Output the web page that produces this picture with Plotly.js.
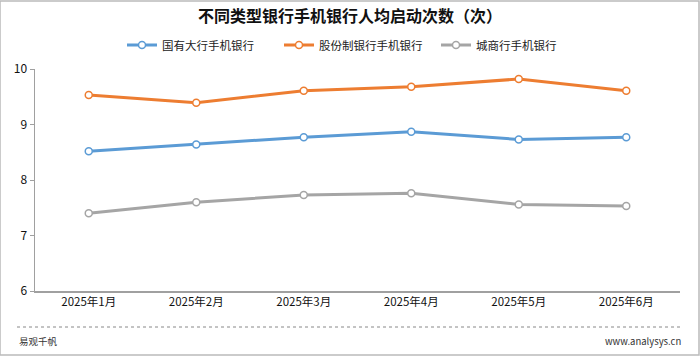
<!DOCTYPE html>
<html><head><meta charset="utf-8">
<script src="https://cdn.plot.ly/plotly-3.0.1.min.js"></script>
<style>html,body{margin:0;padding:0;background:#fff;}#chart{width:700px;height:356px;}</style>
</head><body><div id="chart"></div>
<script>
const months = ['2025年1月','2025年2月','2025年3月','2025年4月','2025年5月','2025年6月'];
const seriesNames = ['国有大行手机银行','股份制银行手机银行','城商行手机银行'];
const stateBanks = [8.52, 8.64, 8.77, 8.87, 8.73, 8.77];
const jointStock = [9.53, 9.39, 9.61, 9.68, 9.82, 9.61];
const cityBanks = [7.40, 7.60, 7.73, 7.76, 7.56, 7.53];
const yTicks = [6, 7, 8, 9, 10];
const colors = ['#5B9BD5', '#ED7D31', '#A5A5A5'];
const font = '"Noto Sans CJK SC", "Noto Sans", sans-serif';

const data = [stateBanks, jointStock, cityBanks].map((vals, i) => ({
  type: 'scatter', mode: 'lines+markers', x: months, y: vals, name: seriesNames[i],
  line: {color: colors[i], width: 3},
  marker: {size: 7, color: '#ffffff', line: {color: colors[i], width: 1.5}},
  cliponaxis: false
}));

const layout = {
  width: 700, height: 356,
  margin: {l: 35, r: 20, t: 69, b: 65},
  paper_bgcolor: '#ffffff', plot_bgcolor: '#ffffff',
  font: {family: font, size: 12, color: '#000'},
  title: {text: '<b>不同类型银行手机银行人均启动次数（次）</b>', x: 0.5, xanchor: 'center', y: 0.955, yanchor: 'middle', font: {family: font, size: 16, color: '#111'}},
  showlegend: true,
  legend: {orientation: 'h', x: 0.5, xanchor: 'center', y: 1.108, yanchor: 'middle', font: {family: font, size: 11.5, color: '#222'}, itemwidth: 30, tracegroupgap: 0, entrywidth: 112, entrywidthmode: 'pixels'},
  xaxis: {type: 'category', range: [-0.5, 5.5], showgrid: false, showline: true, linecolor: '#A0A0A0', linewidth: 1.5, ticks: '', tickfont: {family: font, size: 11.5, color: '#111'}, zeroline: false, fixedrange: true},
  yaxis: {range: [6, 10], tickvals: yTicks, showgrid: false, showline: true, linecolor: '#A0A0A0', linewidth: 1.5, ticks: 'outside', ticklen: 4, tickcolor: '#A0A0A0', tickfont: {family: font, size: 12, color: '#111'}, zeroline: false, fixedrange: true},
  shapes: [
    {type: 'rect', xref: 'paper', yref: 'paper', x0: -35/645, x1: 1 + 19/645, y0: -64/222, y1: 1 + 68/222, line: {color: '#BBBBBB', width: 1.5}},
    {type: 'line', xref: 'paper', yref: 'paper', x0: -18/645, x1: 1 + 3/645, y0: -36/222, y1: -36/222, line: {color: '#888', width: 1, dash: 'dot'}}
  ],
  annotations: [
    {text: '易观千帆', xref: 'paper', yref: 'paper', x: -18/645, xanchor: 'left', y: -50/222, yanchor: 'middle', showarrow: false, font: {family: font, size: 9.5, color: '#333'}},
    {text: 'www.analysys.cn', xref: 'paper', yref: 'paper', x: 1 + 3/645, xanchor: 'right', y: -50/222, yanchor: 'middle', showarrow: false, font: {family: font, size: 9.5, color: '#333'}}
  ]
};
Plotly.newPlot('chart', data, layout, {displayModeBar: false, staticPlot: true});
</script></body></html>
